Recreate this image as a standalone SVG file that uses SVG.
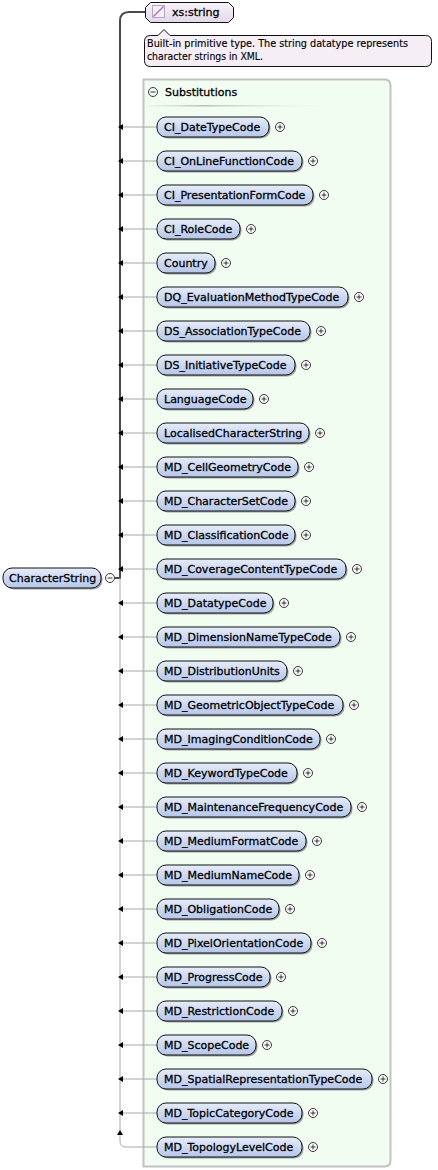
<svg xmlns="http://www.w3.org/2000/svg" width="438" height="1170" viewBox="0 0 438 1170">
<defs>
<linearGradient id="gNode" x1="0" y1="0" x2="0" y2="1"><stop offset="0" stop-color="#e6edfa"/><stop offset="1" stop-color="#b4c6ea"/></linearGradient>
<linearGradient id="gType" x1="0" y1="0" x2="0" y2="1"><stop offset="0" stop-color="#f8f4f9"/><stop offset="1" stop-color="#e3d8e8"/></linearGradient>
<linearGradient id="gSep" x1="0" y1="0" x2="1" y2="0"><stop offset="0" stop-color="#d8e0d8" stop-opacity="0.3"/><stop offset="0.3" stop-color="#b8bdb8"/><stop offset="1" stop-color="#e8f4e8" stop-opacity="0"/></linearGradient>
</defs>
<style>
text{font-family:"DejaVu Sans","Liberation Sans",sans-serif;font-size:11px;fill:#000;stroke:#000;stroke-width:0.3}
.doc{font-size:10px;stroke-width:0.15}
.sh{fill:#555;opacity:0.55}
.nd{fill:url(#gNode);stroke:#111;stroke-width:1}
.pl circle{fill:#fff;stroke:#222;stroke-width:0.9}
.pl path{stroke:#222;stroke-width:0.9;fill:none}
.thin{stroke:#a8a8a8;stroke-width:1;fill:none}
.thick{stroke:#4a4a4a;stroke-width:2;fill:none}
.ah{fill:#000}
</style>

<path id="substitutions-box" d="M143.5,79.5H384.5Q390.5,79.5 390.5,85.5V1160.5Q390.5,1166.5 384.5,1166.5H143.5Z" fill="#f2fdf2" stroke="#c2c2c2" stroke-width="2"/>
<g id="substitutions-header">
<circle cx="153" cy="92" r="4.5" fill="none" stroke="#222" stroke-width="0.9"/>
<path d="M150.5,92H155.5" stroke="#222" stroke-width="0.9"/>
<text x="165" y="96">Substitutions</text>
<rect x="147" y="105" width="185" height="1.5" fill="url(#gSep)"/>
</g>

<g id="connectors">
<path class="thick" d="M145,12H129Q120,12 120,21V578H115"/>
<path class="thin" d="M120,578V1141Q120,1147 126,1147H157"/>
<path class="thin" d="M123,127H157M123,161H157M123,195H157M123,229H157M123,263H157M123,297H157M123,331H157M123,365H157M123,399H157M123,433H157M123,467H157M123,501H157M123,535H157M123,569H157M123,603H157M123,637H157M123,671H157M123,705H157M123,739H157M123,773H157M123,807H157M123,841H157M123,875H157M123,909H157M123,943H157M123,977H157M123,1011H157M123,1045H157M123,1079H157M123,1113H157"/>
<path class="ah" d="M118,127l5,-3v6zM118,161l5,-3v6zM118,195l5,-3v6zM118,229l5,-3v6zM118,263l5,-3v6zM118,297l5,-3v6zM118,331l5,-3v6zM118,365l5,-3v6zM118,399l5,-3v6zM118,433l5,-3v6zM118,467l5,-3v6zM118,501l5,-3v6zM118,535l5,-3v6zM118,569l5,-3v6zM118,603l5,-3v6zM118,637l5,-3v6zM118,671l5,-3v6zM118,705l5,-3v6zM118,739l5,-3v6zM118,773l5,-3v6zM118,807l5,-3v6zM118,841l5,-3v6zM118,875l5,-3v6zM118,909l5,-3v6zM118,943l5,-3v6zM118,977l5,-3v6zM118,1011l5,-3v6zM118,1045l5,-3v6zM118,1079l5,-3v6zM118,1113l5,-3v6z"/>
<path class="ah" d="M120,1130l-3,5h6z"/>
</g>

<g id="xs-string">
<path d="M150.5,2.5H228.5L233.5,7.5V17.5L228.5,22.5H150.5L145.5,17.5V7.5Z" fill="url(#gType)" stroke="#111" stroke-width="1"/>
<rect x="152.5" y="5.5" width="12" height="12" fill="#f4eef6" stroke="#b9a4c4" stroke-width="1"/>
<path d="M153.5,16.5L163.5,6.5" stroke="#a070b8" stroke-width="1.2"/>
<text x="172" y="16">xs:string</text>
</g>

<g id="xs-string-doc">
<path d="M150.5,35.5H158L164,29.5L170,35.5H425.5Q431.5,35.5 431.5,41.5V60.5Q431.5,66.5 425.5,66.5H150.5Q144.5,66.5 144.5,60.5V41.5Q144.5,35.5 150.5,35.5Z" fill="#f5eff5" stroke="#111" stroke-width="1"/>
<text class="doc" x="147" y="47" textLength="261" lengthAdjust="spacingAndGlyphs">Built-in primitive type. The string datatype represents</text>
<text class="doc" x="147" y="60" textLength="116" lengthAdjust="spacingAndGlyphs">character strings in XML.</text>
</g>

<g id="n-CharacterString" transform="translate(3,568)">
<rect class="sh" x="1.5" y="1.5" width="98" height="20" rx="9"/><rect class="nd" width="98" height="20" rx="9"/><text x="6" y="14">CharacterString</text>
<g class="pl" transform="translate(107,10)"><circle r="4.5"/><path d="M-2.5,0H2.5"/></g>
</g>

<g id="n-CI_DateTypeCode" transform="translate(157,117)"><rect class="sh" x="1.5" y="1.5" width="112" height="20" rx="9"/><rect class="nd" width="112" height="20" rx="9"/><text x="7" y="14">CI_DateTypeCode</text><g class="pl" transform="translate(123,10)"><circle r="4.5"/><path d="M-2.5,0H2.5M0,-2.5V2.5"/></g></g>
<g id="n-CI_OnLineFunctionCode" transform="translate(157,151)"><rect class="sh" x="1.5" y="1.5" width="145" height="20" rx="9"/><rect class="nd" width="145" height="20" rx="9"/><text x="7" y="14">CI_OnLineFunctionCode</text><g class="pl" transform="translate(156,10)"><circle r="4.5"/><path d="M-2.5,0H2.5M0,-2.5V2.5"/></g></g>
<g id="n-CI_PresentationFormCode" transform="translate(157,185)"><rect class="sh" x="1.5" y="1.5" width="156" height="20" rx="9"/><rect class="nd" width="156" height="20" rx="9"/><text x="7" y="14">CI_PresentationFormCode</text><g class="pl" transform="translate(167,10)"><circle r="4.5"/><path d="M-2.5,0H2.5M0,-2.5V2.5"/></g></g>
<g id="n-CI_RoleCode" transform="translate(157,219)"><rect class="sh" x="1.5" y="1.5" width="83" height="20" rx="9"/><rect class="nd" width="83" height="20" rx="9"/><text x="7" y="14">CI_RoleCode</text><g class="pl" transform="translate(94,10)"><circle r="4.5"/><path d="M-2.5,0H2.5M0,-2.5V2.5"/></g></g>
<g id="n-Country" transform="translate(157,253)"><rect class="sh" x="1.5" y="1.5" width="58" height="20" rx="9"/><rect class="nd" width="58" height="20" rx="9"/><text x="7" y="14">Country</text><g class="pl" transform="translate(69,10)"><circle r="4.5"/><path d="M-2.5,0H2.5M0,-2.5V2.5"/></g></g>
<g id="n-DQ_EvaluationMethodTypeCode" transform="translate(157,287)"><rect class="sh" x="1.5" y="1.5" width="191" height="20" rx="9"/><rect class="nd" width="191" height="20" rx="9"/><text x="7" y="14">DQ_EvaluationMethodTypeCode</text><g class="pl" transform="translate(202,10)"><circle r="4.5"/><path d="M-2.5,0H2.5M0,-2.5V2.5"/></g></g>
<g id="n-DS_AssociationTypeCode" transform="translate(157,321)"><rect class="sh" x="1.5" y="1.5" width="153" height="20" rx="9"/><rect class="nd" width="153" height="20" rx="9"/><text x="7" y="14">DS_AssociationTypeCode</text><g class="pl" transform="translate(164,10)"><circle r="4.5"/><path d="M-2.5,0H2.5M0,-2.5V2.5"/></g></g>
<g id="n-DS_InitiativeTypeCode" transform="translate(157,355)"><rect class="sh" x="1.5" y="1.5" width="138" height="20" rx="9"/><rect class="nd" width="138" height="20" rx="9"/><text x="7" y="14">DS_InitiativeTypeCode</text><g class="pl" transform="translate(149,10)"><circle r="4.5"/><path d="M-2.5,0H2.5M0,-2.5V2.5"/></g></g>
<g id="n-LanguageCode" transform="translate(157,389)"><rect class="sh" x="1.5" y="1.5" width="96" height="20" rx="9"/><rect class="nd" width="96" height="20" rx="9"/><text x="7" y="14">LanguageCode</text><g class="pl" transform="translate(107,10)"><circle r="4.5"/><path d="M-2.5,0H2.5M0,-2.5V2.5"/></g></g>
<g id="n-LocalisedCharacterString" transform="translate(157,423)"><rect class="sh" x="1.5" y="1.5" width="152" height="20" rx="9"/><rect class="nd" width="152" height="20" rx="9"/><text x="7" y="14">LocalisedCharacterString</text><g class="pl" transform="translate(163,10)"><circle r="4.5"/><path d="M-2.5,0H2.5M0,-2.5V2.5"/></g></g>
<g id="n-MD_CellGeometryCode" transform="translate(157,457)"><rect class="sh" x="1.5" y="1.5" width="141" height="20" rx="9"/><rect class="nd" width="141" height="20" rx="9"/><text x="7" y="14">MD_CellGeometryCode</text><g class="pl" transform="translate(152,10)"><circle r="4.5"/><path d="M-2.5,0H2.5M0,-2.5V2.5"/></g></g>
<g id="n-MD_CharacterSetCode" transform="translate(157,491)"><rect class="sh" x="1.5" y="1.5" width="138" height="20" rx="9"/><rect class="nd" width="138" height="20" rx="9"/><text x="7" y="14">MD_CharacterSetCode</text><g class="pl" transform="translate(149,10)"><circle r="4.5"/><path d="M-2.5,0H2.5M0,-2.5V2.5"/></g></g>
<g id="n-MD_ClassificationCode" transform="translate(157,525)"><rect class="sh" x="1.5" y="1.5" width="138" height="20" rx="9"/><rect class="nd" width="138" height="20" rx="9"/><text x="7" y="14">MD_ClassificationCode</text><g class="pl" transform="translate(149,10)"><circle r="4.5"/><path d="M-2.5,0H2.5M0,-2.5V2.5"/></g></g>
<g id="n-MD_CoverageContentTypeCode" transform="translate(157,559)"><rect class="sh" x="1.5" y="1.5" width="189" height="20" rx="9"/><rect class="nd" width="189" height="20" rx="9"/><text x="7" y="14">MD_CoverageContentTypeCode</text><g class="pl" transform="translate(200,10)"><circle r="4.5"/><path d="M-2.5,0H2.5M0,-2.5V2.5"/></g></g>
<g id="n-MD_DatatypeCode" transform="translate(157,593)"><rect class="sh" x="1.5" y="1.5" width="116" height="20" rx="9"/><rect class="nd" width="116" height="20" rx="9"/><text x="7" y="14">MD_DatatypeCode</text><g class="pl" transform="translate(127,10)"><circle r="4.5"/><path d="M-2.5,0H2.5M0,-2.5V2.5"/></g></g>
<g id="n-MD_DimensionNameTypeCode" transform="translate(157,627)"><rect class="sh" x="1.5" y="1.5" width="183" height="20" rx="9"/><rect class="nd" width="183" height="20" rx="9"/><text x="7" y="14">MD_DimensionNameTypeCode</text><g class="pl" transform="translate(194,10)"><circle r="4.5"/><path d="M-2.5,0H2.5M0,-2.5V2.5"/></g></g>
<g id="n-MD_DistributionUnits" transform="translate(157,661)"><rect class="sh" x="1.5" y="1.5" width="130" height="20" rx="9"/><rect class="nd" width="130" height="20" rx="9"/><text x="7" y="14">MD_DistributionUnits</text><g class="pl" transform="translate(141,10)"><circle r="4.5"/><path d="M-2.5,0H2.5M0,-2.5V2.5"/></g></g>
<g id="n-MD_GeometricObjectTypeCode" transform="translate(157,695)"><rect class="sh" x="1.5" y="1.5" width="186" height="20" rx="9"/><rect class="nd" width="186" height="20" rx="9"/><text x="7" y="14">MD_GeometricObjectTypeCode</text><g class="pl" transform="translate(197,10)"><circle r="4.5"/><path d="M-2.5,0H2.5M0,-2.5V2.5"/></g></g>
<g id="n-MD_ImagingConditionCode" transform="translate(157,729)"><rect class="sh" x="1.5" y="1.5" width="163" height="20" rx="9"/><rect class="nd" width="163" height="20" rx="9"/><text x="7" y="14">MD_ImagingConditionCode</text><g class="pl" transform="translate(174,10)"><circle r="4.5"/><path d="M-2.5,0H2.5M0,-2.5V2.5"/></g></g>
<g id="n-MD_KeywordTypeCode" transform="translate(157,763)"><rect class="sh" x="1.5" y="1.5" width="140" height="20" rx="9"/><rect class="nd" width="140" height="20" rx="9"/><text x="7" y="14">MD_KeywordTypeCode</text><g class="pl" transform="translate(151,10)"><circle r="4.5"/><path d="M-2.5,0H2.5M0,-2.5V2.5"/></g></g>
<g id="n-MD_MaintenanceFrequencyCode" transform="translate(157,797)"><rect class="sh" x="1.5" y="1.5" width="194" height="20" rx="9"/><rect class="nd" width="194" height="20" rx="9"/><text x="7" y="14">MD_MaintenanceFrequencyCode</text><g class="pl" transform="translate(205,10)"><circle r="4.5"/><path d="M-2.5,0H2.5M0,-2.5V2.5"/></g></g>
<g id="n-MD_MediumFormatCode" transform="translate(157,831)"><rect class="sh" x="1.5" y="1.5" width="149" height="20" rx="9"/><rect class="nd" width="149" height="20" rx="9"/><text x="7" y="14">MD_MediumFormatCode</text><g class="pl" transform="translate(160,10)"><circle r="4.5"/><path d="M-2.5,0H2.5M0,-2.5V2.5"/></g></g>
<g id="n-MD_MediumNameCode" transform="translate(157,865)"><rect class="sh" x="1.5" y="1.5" width="142" height="20" rx="9"/><rect class="nd" width="142" height="20" rx="9"/><text x="7" y="14">MD_MediumNameCode</text><g class="pl" transform="translate(153,10)"><circle r="4.5"/><path d="M-2.5,0H2.5M0,-2.5V2.5"/></g></g>
<g id="n-MD_ObligationCode" transform="translate(157,899)"><rect class="sh" x="1.5" y="1.5" width="122" height="20" rx="9"/><rect class="nd" width="122" height="20" rx="9"/><text x="7" y="14">MD_ObligationCode</text><g class="pl" transform="translate(133,10)"><circle r="4.5"/><path d="M-2.5,0H2.5M0,-2.5V2.5"/></g></g>
<g id="n-MD_PixelOrientationCode" transform="translate(157,933)"><rect class="sh" x="1.5" y="1.5" width="154" height="20" rx="9"/><rect class="nd" width="154" height="20" rx="9"/><text x="7" y="14">MD_PixelOrientationCode</text><g class="pl" transform="translate(165,10)"><circle r="4.5"/><path d="M-2.5,0H2.5M0,-2.5V2.5"/></g></g>
<g id="n-MD_ProgressCode" transform="translate(157,967)"><rect class="sh" x="1.5" y="1.5" width="113" height="20" rx="9"/><rect class="nd" width="113" height="20" rx="9"/><text x="7" y="14">MD_ProgressCode</text><g class="pl" transform="translate(124,10)"><circle r="4.5"/><path d="M-2.5,0H2.5M0,-2.5V2.5"/></g></g>
<g id="n-MD_RestrictionCode" transform="translate(157,1001)"><rect class="sh" x="1.5" y="1.5" width="125" height="20" rx="9"/><rect class="nd" width="125" height="20" rx="9"/><text x="7" y="14">MD_RestrictionCode</text><g class="pl" transform="translate(136,10)"><circle r="4.5"/><path d="M-2.5,0H2.5M0,-2.5V2.5"/></g></g>
<g id="n-MD_ScopeCode" transform="translate(157,1035)"><rect class="sh" x="1.5" y="1.5" width="99" height="20" rx="9"/><rect class="nd" width="99" height="20" rx="9"/><text x="7" y="14">MD_ScopeCode</text><g class="pl" transform="translate(110,10)"><circle r="4.5"/><path d="M-2.5,0H2.5M0,-2.5V2.5"/></g></g>
<g id="n-MD_SpatialRepresentationTypeCode" transform="translate(157,1069)"><rect class="sh" x="1.5" y="1.5" width="215" height="20" rx="9"/><rect class="nd" width="215" height="20" rx="9"/><text x="7" y="14">MD_SpatialRepresentationTypeCode</text><g class="pl" transform="translate(226,10)"><circle r="4.5"/><path d="M-2.5,0H2.5M0,-2.5V2.5"/></g></g>
<g id="n-MD_TopicCategoryCode" transform="translate(157,1103)"><rect class="sh" x="1.5" y="1.5" width="145" height="20" rx="9"/><rect class="nd" width="145" height="20" rx="9"/><text x="7" y="14">MD_TopicCategoryCode</text><g class="pl" transform="translate(156,10)"><circle r="4.5"/><path d="M-2.5,0H2.5M0,-2.5V2.5"/></g></g>
<g id="n-MD_TopologyLevelCode" transform="translate(157,1137)"><rect class="sh" x="1.5" y="1.5" width="145" height="20" rx="9"/><rect class="nd" width="145" height="20" rx="9"/><text x="7" y="14">MD_TopologyLevelCode</text><g class="pl" transform="translate(156,10)"><circle r="4.5"/><path d="M-2.5,0H2.5M0,-2.5V2.5"/></g></g>
</svg>
